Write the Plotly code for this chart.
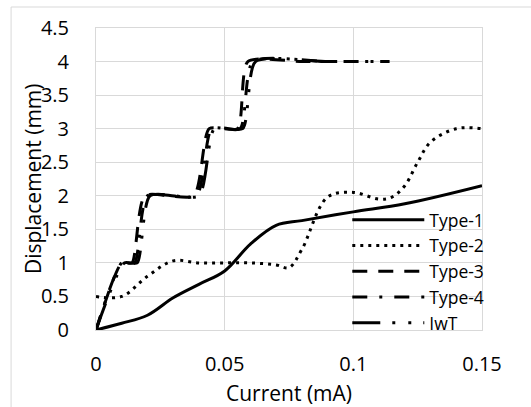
import plotly.graph_objects as go

# ---- data ----
type1_x = [0, 0.01, 0.02, 0.03, 0.04, 0.05, 0.06, 0.07, 0.08, 0.1, 0.12, 0.15]
type1_y = [0, 0.1, 0.22, 0.48, 0.68, 0.88, 1.28, 1.56, 1.63, 1.76, 1.88, 2.15]

type2_x = [0, 0.01, 0.02, 0.03, 0.04, 0.05, 0.06, 0.07, 0.075, 0.08, 0.09, 0.1, 0.11, 0.115, 0.12, 0.125, 0.13, 0.14, 0.15]
type2_y = [0.5, 0.5, 0.8, 1.03, 1.0, 1.0, 1.0, 0.97, 0.93, 1.2, 1.98, 2.05, 1.95, 1.98, 2.15, 2.5, 2.8, 3.0, 3.0]

type3_x = [0, 0.01, 0.014, 0.019, 0.038, 0.044, 0.055, 0.059, 0.08, 0.1]
type3_y = [0, 1, 1, 2, 2, 3, 3, 4, 4, 4]

type4_x = [0, 0.01, 0.015, 0.02, 0.039, 0.045, 0.056, 0.061, 0.09, 0.114]
type4_y = [0, 1, 1, 2, 2, 3, 3, 4, 4, 4]

iwt_x = [0, 0.011, 0.016, 0.021, 0.04, 0.046, 0.057, 0.062, 0.09, 0.114]
iwt_y = [0, 1, 1, 2, 2, 3, 3, 4, 4, 4]

x_ticks = [0, 0.05, 0.1, 0.15]
x_tick_labels = ["0", "0.05", "0.1", "0.15"]
y_ticks = [0, 0.5, 1, 1.5, 2, 2.5, 3, 3.5, 4, 4.5]
y_tick_labels = ["0", "0.5", "1", "1.5", "2", "2.5", "3", "3.5", "4", "4.5"]

FONT = "Open Sans"
GRID = "#d9d9d9"

series = [
    ("Type-1", type1_x, type1_y, "solid", 1.0),
    ("Type-2", type2_x, type2_y, "3px,5px", 1.0),
    ("Type-3", type3_x, type3_y, "15px,11px", 0.6),
    ("Type-4", type4_x, type4_y, "15px,12px,3px,12px", 0.6),
    ("IwT", iwt_x, iwt_y, "28px,12px,3px,13px,3px,12px", 0.6),
]

fig = go.Figure()
for name, xs, ys, dash, sm in series:
    fig.add_trace(go.Scatter(
        x=xs, y=ys, name=name, mode="lines",
        line=dict(color="black", width=3, dash=dash, shape="spline", smoothing=sm),
    ))

fig.update_layout(
    width=531, height=407, autosize=False,
    margin=dict(l=96, r=49, t=28, b=77),
    paper_bgcolor="white", plot_bgcolor="white",
    font=dict(family=FONT, size=20, color="black"),
    showlegend=True,
    legend=dict(
        x=0.651, y=0.424, xanchor="left", yanchor="top",
        bgcolor="rgba(0,0,0,0)", font=dict(family=FONT, size=17.5, color="black"),
        itemwidth=72, tracegroupgap=0,
    ),
    xaxis=dict(
        range=[0, 0.15], tickvals=x_ticks, ticktext=x_tick_labels,
        showgrid=True, gridcolor=GRID, gridwidth=1, zeroline=False,
        showline=True, linecolor=GRID, linewidth=1, mirror=True,
        ticks="", ticklabelstandoff=16,
        tickfont=dict(family=FONT, size=20, color="black"),
    ),
    yaxis=dict(
        range=[0, 4.5], tickvals=y_ticks, ticktext=y_tick_labels,
        showgrid=True, gridcolor=GRID, gridwidth=1, zeroline=False,
        showline=True, linecolor=GRID, linewidth=1, mirror=True,
        ticks="", ticklabelstandoff=22,
        tickfont=dict(family=FONT, size=20, color="black"),
    ),
    annotations=[
        dict(text="Current (mA)", xref="paper", yref="paper", x=0.5, y=-0.208,
             xanchor="center", yanchor="middle", showarrow=False,
             font=dict(family=FONT, size=21, color="black")),
        dict(text="Displacement (mm)", xref="paper", yref="paper", x=-0.163, y=0.5,
             xanchor="center", yanchor="middle", textangle=-90, showarrow=False,
             font=dict(family=FONT, size=21, color="black")),
    ],
    shapes=[
        dict(type="rect", xref="paper", yref="paper", x0=-0.22, y0=-0.5, x1=2, y1=1.0695,
             line=dict(color=GRID, width=1), fillcolor="rgba(0,0,0,0)", layer="below"),
    ],
)

fig.write_html("out.html", config={"displayModeBar": False},
               post_script="document.body.style.margin='0';document.body.style.overflow='hidden';")
